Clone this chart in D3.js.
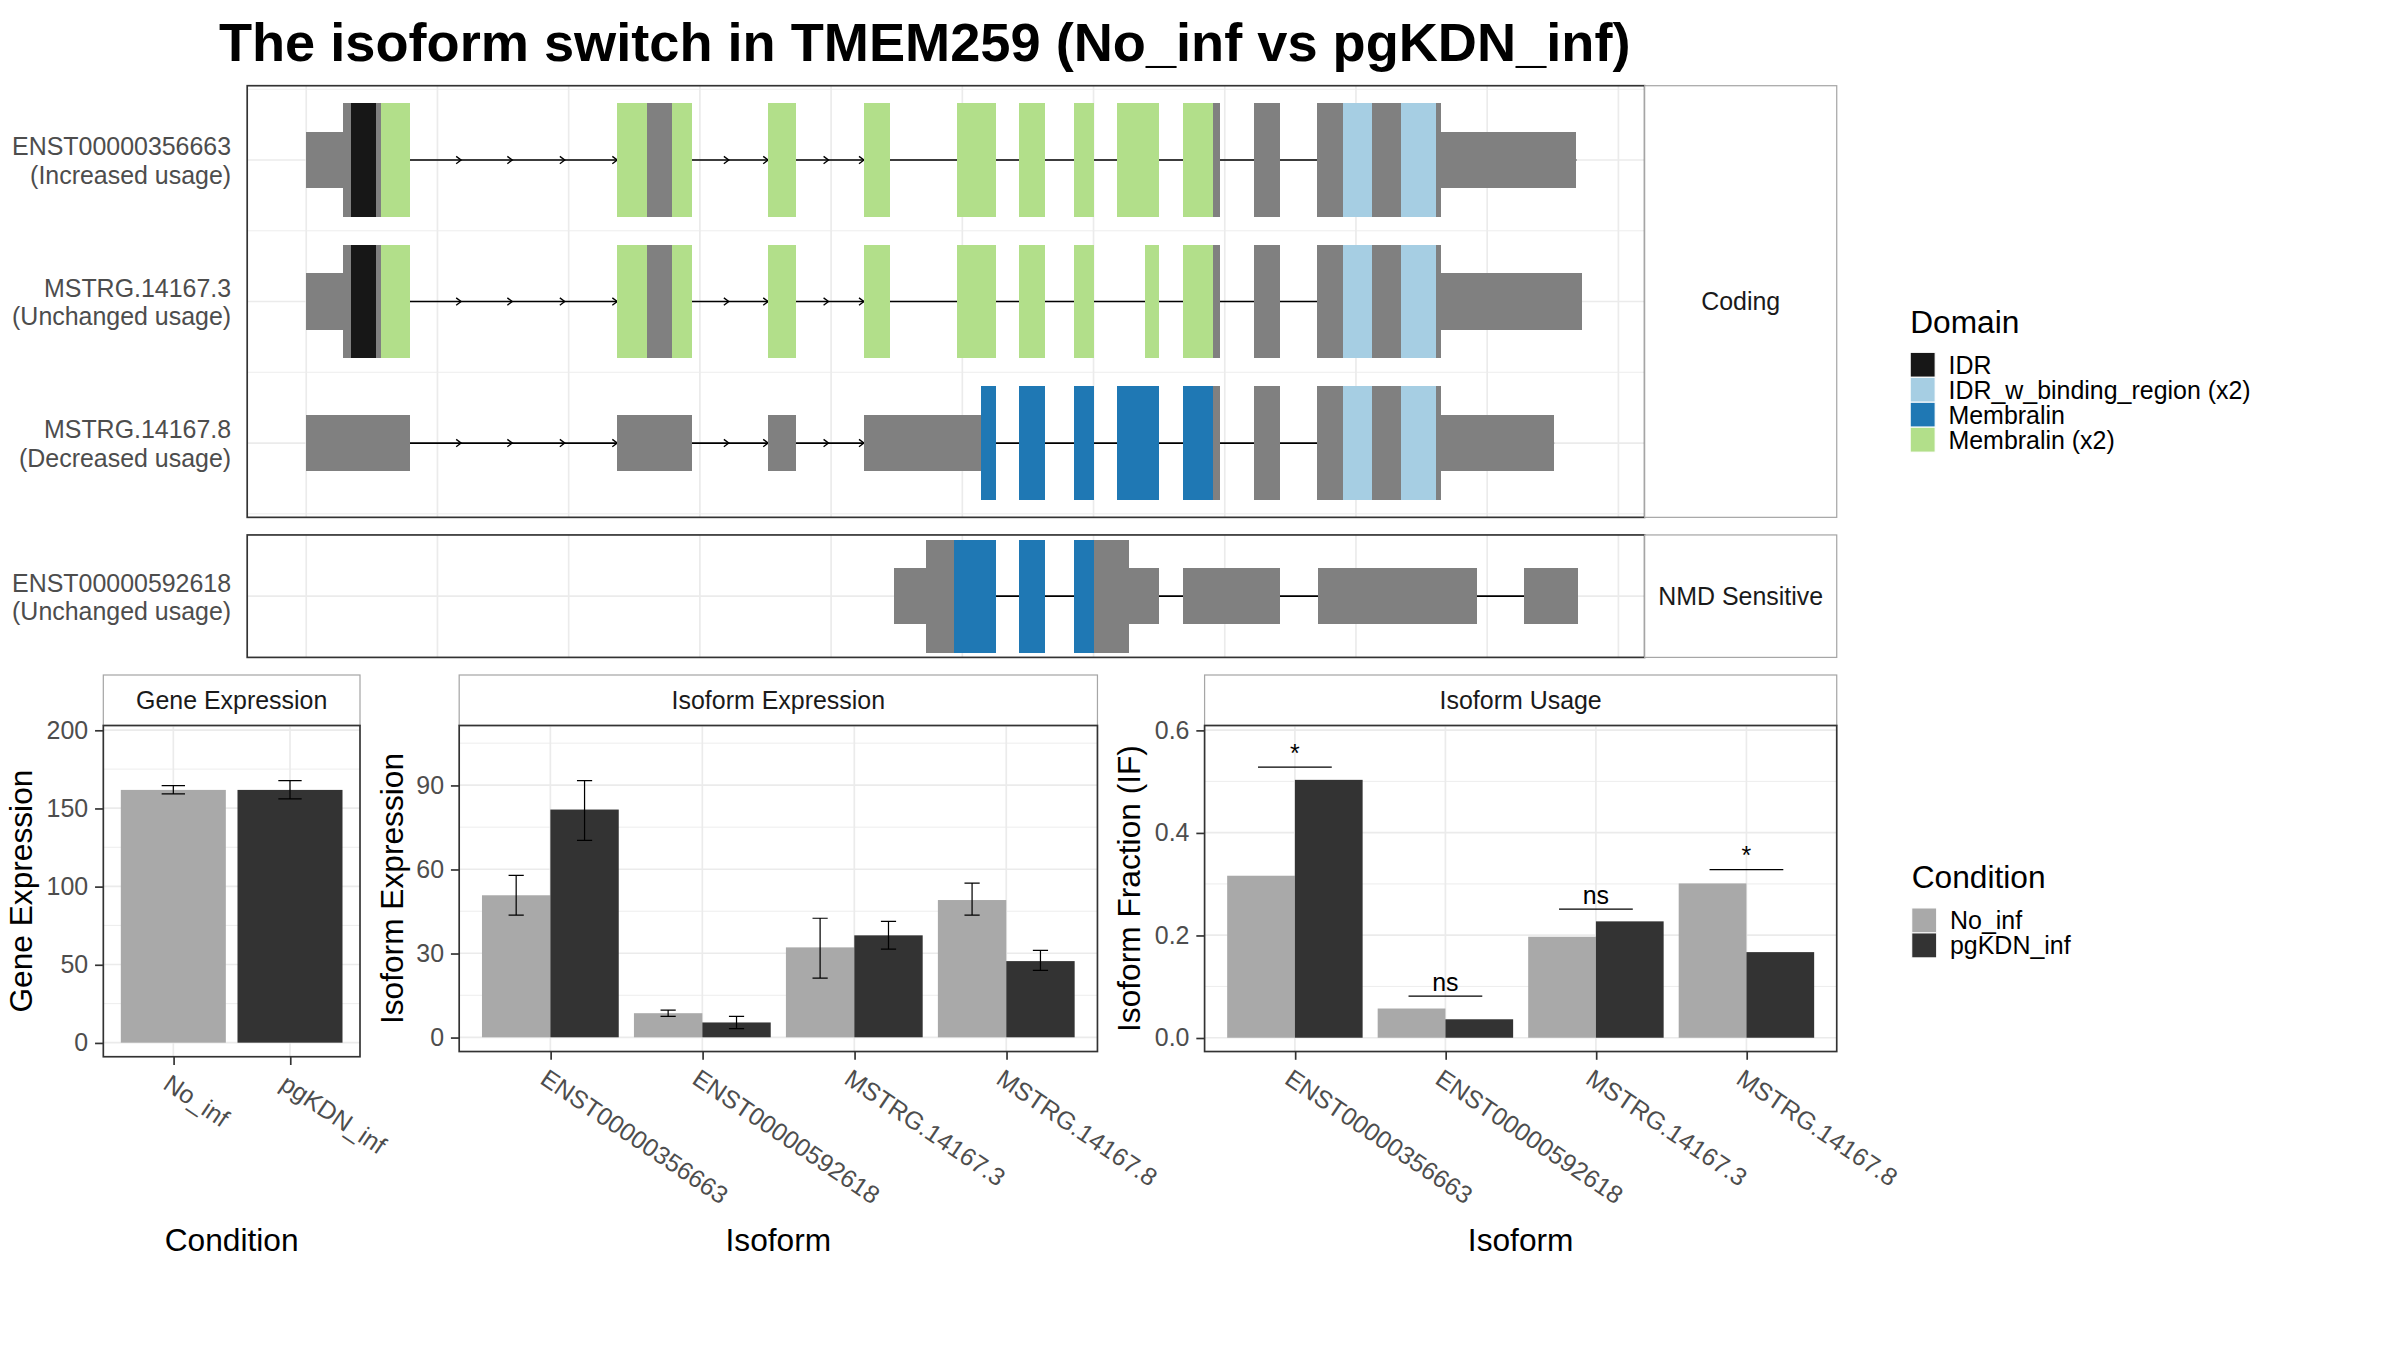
<!DOCTYPE html>
<html>
<head>
<meta charset="utf-8">
<script src="https://cdn.jsdelivr.net/npm/d3@7"></script>
<style>
  body { margin: 0; background: #fff; }
  text { font-family: "Liberation Sans", Arial, Helvetica, sans-serif; }
</style>
</head>
<body>
<script>
// ---------------- data ----------------
var titleText = "The isoform switch in TMEM259 (No_inf vs pgKDN_inf)";

var codingRows = ["ENST00000356663", "MSTRG.14167.3", "MSTRG.14167.8"];
var codingNotes = ["(Increased usage)", "(Unchanged usage)", "(Decreased usage)"];
var nmdRows = ["ENST00000592618"];
var nmdNotes = ["(Unchanged usage)"];

var domainNames = ["IDR", "IDR_w_binding_region (x2)", "Membralin", "Membralin (x2)"];
var domainColors = ["#171717", "#a6cee3", "#1f78b4", "#b2df8a"];

// exon pieces: [start, end, part, domain]  (plot units along the gene)
var exons_ENST00000356663 = [
  [0, 28, "utr", null], [28, 34, "cds", null], [34, 53, "cds", "IDR"], [53, 57, "cds", null], [57, 79, "cds", "Membralin (x2)"],
  [237, 260, "cds", "Membralin (x2)"], [260, 279, "cds", null], [279, 294, "cds", "Membralin (x2)"],
  [352, 373, "cds", "Membralin (x2)"],
  [425, 445, "cds", "Membralin (x2)"],
  [496, 526, "cds", "Membralin (x2)"],
  [543, 563, "cds", "Membralin (x2)"],
  [585, 600, "cds", "Membralin (x2)"],
  [618, 650, "cds", "Membralin (x2)"],
  [668, 691, "cds", "Membralin (x2)"], [691, 696, "cds", null],
  [722, 742, "cds", null],
  [770, 790, "cds", null], [790, 812, "cds", "IDR_w_binding_region (x2)"], [812, 834, "cds", null],
  [834, 861, "cds", "IDR_w_binding_region (x2)"], [861, 865, "cds", null], [865, 968, "utr", null]
];
var exons_MSTRG_14167_3 = [
  [0, 28, "utr", null], [28, 34, "cds", null], [34, 53, "cds", "IDR"], [53, 57, "cds", null], [57, 79, "cds", "Membralin (x2)"],
  [237, 260, "cds", "Membralin (x2)"], [260, 279, "cds", null], [279, 294, "cds", "Membralin (x2)"],
  [352, 373, "cds", "Membralin (x2)"],
  [425, 445, "cds", "Membralin (x2)"],
  [496, 526, "cds", "Membralin (x2)"],
  [543, 563, "cds", "Membralin (x2)"],
  [585, 600, "cds", "Membralin (x2)"],
  [639, 650, "cds", "Membralin (x2)"],
  [668, 691, "cds", "Membralin (x2)"], [691, 696, "cds", null],
  [722, 742, "cds", null],
  [770, 790, "cds", null], [790, 812, "cds", "IDR_w_binding_region (x2)"], [812, 834, "cds", null],
  [834, 861, "cds", "IDR_w_binding_region (x2)"], [861, 865, "cds", null], [865, 972, "utr", null]
];
var exons_MSTRG_14167_8 = [
  [0, 79, "utr", null],
  [237, 294, "utr", null],
  [352, 373, "utr", null],
  [425, 514, "utr", null], [514, 526, "cds", "Membralin"],
  [543, 563, "cds", "Membralin"],
  [585, 600, "cds", "Membralin"],
  [618, 650, "cds", "Membralin"],
  [668, 691, "cds", "Membralin"], [691, 696, "cds", null],
  [722, 742, "cds", null],
  [770, 790, "cds", null], [790, 812, "cds", "IDR_w_binding_region (x2)"], [812, 834, "cds", null],
  [834, 861, "cds", "IDR_w_binding_region (x2)"], [861, 865, "cds", null], [865, 951, "utr", null]
];
var exons_ENST00000592618 = [
  [448, 472, "utr", null], [472, 494, "cds", null], [494, 526, "cds", "Membralin"],
  [543, 563, "cds", "Membralin"],
  [585, 600, "cds", "Membralin"], [600, 627, "cds", null], [627, 650, "utr", null],
  [668, 742, "utr", null],
  [771, 892, "utr", null],
  [928, 969, "utr", null]
];
// little direction arrows on the first introns of the coding isoforms
var intronArrows = [118, 157, 197, 237, 322, 352, 398, 425];

var conditions = ["No_inf", "pgKDN_inf"];
var conditionColors = ["#a9a9a9", "#333333"];

var geneMean = [161.7, 161.7];
var geneLow = [159.1, 155.9];
var geneHigh = [164.4, 167.7];

var isoforms = ["ENST00000356663", "ENST00000592618", "MSTRG.14167.3", "MSTRG.14167.8"];
var isoExpNoInf = [50.7, 8.6, 32.1, 49.0];
var isoExpNoInfLow = [43.6, 7.5, 21.1, 43.6];
var isoExpNoInfHigh = [57.8, 9.7, 42.5, 55.0];
var isoExpPg = [81.3, 5.3, 36.4, 27.2];
var isoExpPgLow = [70.3, 3.1, 31.5, 23.9];
var isoExpPgHigh = [91.6, 7.5, 41.4, 31.0];

var ifNoInf = [0.316, 0.057, 0.197, 0.301];
var ifPg = [0.503, 0.036, 0.227, 0.167];
var sigLabels = ["*", "ns", "ns", "*"];
var sigHeight = [0.528, 0.081, 0.251, 0.328];

// ---------------- setup ----------------
var W = 1568, H = 882;
var FS = 16.3, FT = 20.7;
var grid = "#ebebeb", frame = "#333333", stripLine = "#a6a6a6", tickTxt = "#4d4d4d";

var svg = d3.select("body").append("svg")
    .attr("width", 2400)
    .attr("height", 1350)
    .attr("viewBox", "0 0 " + W + " " + H);
svg.append("rect").attr("width", W).attr("height", H).attr("fill", "#fff");

svg.append("text")
    .attr("x", 143).attr("y", 40)
    .attr("font-size", 35.4).attr("font-weight", "bold")
    .attr("fill", "#000")
    .text(titleText);

// ---------------- transcript panels ----------------
var exonsByTx = {
  "ENST00000356663": exons_ENST00000356663,
  "MSTRG.14167.3": exons_MSTRG_14167_3,
  "MSTRG.14167.8": exons_MSTRG_14167_8,
  "ENST00000592618": exons_ENST00000592618
};
var arrowsByTx = {
  "ENST00000356663": intronArrows,
  "MSTRG.14167.3": intronArrows,
  "MSTRG.14167.8": intronArrows,
  "ENST00000592618": []
};
var domainColor = d3.scaleOrdinal().domain(domainNames).range(domainColors);

var txLeft = 161.5, txRight = 1074.5, stripRight = 1200;
var txX = d3.scaleLinear().domain([-45, 1020]).range([txLeft, txRight]);

var topPanel = {rows: codingRows, notes: codingNotes, top: 56, bottom: 338, strip: "Coding"};
var nmdPanel = {rows: nmdRows, notes: nmdNotes, top: 349.5, bottom: 429.5, strip: "NMD Sensitive"};

var yTop = d3.scalePoint().domain(codingRows).range([topPanel.top, topPanel.bottom]).padding(0.525);
var rowStep = yTop.step();
var tallHalf = 0.4 * rowStep, shortHalf = 0.2 * rowStep;

function txPanel(p, yScale) {
  var g = svg.append("g");
  // grid
  g.selectAll("line.vg").data(txX.ticks(10)).enter().append("line")
      .attr("x1", function(d) { return txX(d); }).attr("x2", function(d) { return txX(d); })
      .attr("y1", p.top).attr("y2", p.bottom)
      .attr("stroke", grid).attr("stroke-width", 1.1);
  if (p.rows.length > 1) {
    var minors = [];
    p.rows.forEach(function(r) { minors.push(yScale(r) - rowStep / 2); });
    minors.push(yScale(p.rows[p.rows.length - 1]) + rowStep / 2);
    g.selectAll("line.hm").data(minors).enter().append("line")
        .attr("x1", txLeft).attr("x2", txRight)
        .attr("y1", function(d) { return d; }).attr("y2", function(d) { return d; })
        .attr("stroke", grid).attr("stroke-width", 0.6);
  }
  g.selectAll("line.hg").data(p.rows).enter().append("line")
      .attr("x1", txLeft).attr("x2", txRight)
      .attr("y1", function(d) { return yScale(d); }).attr("y2", function(d) { return yScale(d); })
      .attr("stroke", grid).attr("stroke-width", 1.1);

  p.rows.forEach(function(tx, i) {
    var segs = exonsByTx[tx];
    var yc = yScale(tx);
    // intron backbone
    g.append("line")
        .attr("x1", txX(segs[0][0])).attr("x2", txX(segs[segs.length - 1][1]))
        .attr("y1", yc).attr("y2", yc)
        .attr("stroke", "#000").attr("stroke-width", 1.1);
    g.selectAll("path.arr" + i).data(arrowsByTx[tx]).enter().append("path")
        .attr("d", function(d) {
          var ax = txX(d);
          return "M" + (ax - 3.2) + "," + (yc - 2.4) + "L" + ax + "," + yc + "L" + (ax - 3.2) + "," + (yc + 2.4);
        })
        .attr("fill", "none").attr("stroke", "#000").attr("stroke-width", 0.9);
    // exons
    g.selectAll("rect.ex" + i).data(segs).enter().append("rect")
        .attr("x", function(d) { return txX(d[0]); })
        .attr("width", function(d) { return txX(d[1]) - txX(d[0]); })
        .attr("y", function(d) { return yc - (d[2] === "cds" ? tallHalf : shortHalf); })
        .attr("height", function(d) { return 2 * (d[2] === "cds" ? tallHalf : shortHalf); })
        .attr("fill", function(d) { return d[3] ? domainColor(d[3]) : "#808080"; })
        .attr("shape-rendering", "crispEdges");
    // label
    var t = svg.append("text")
        .attr("text-anchor", "end").attr("font-size", FS).attr("fill", tickTxt);
    t.append("tspan").attr("x", 151).attr("y", yc - 3).text(tx);
    t.append("tspan").attr("x", 151).attr("y", yc + 15.5).text(p.notes[i]);
  });

  // border + strip
  g.append("rect")
      .attr("x", txLeft).attr("y", p.top)
      .attr("width", txRight - txLeft).attr("height", p.bottom - p.top)
      .attr("fill", "none").attr("stroke", frame).attr("stroke-width", 1.1);
  g.append("rect")
      .attr("x", txRight).attr("y", p.top)
      .attr("width", stripRight - txRight).attr("height", p.bottom - p.top)
      .attr("fill", "#fff").attr("stroke", stripLine).attr("stroke-width", 0.8);
  g.append("text")
      .attr("x", (txRight + stripRight) / 2).attr("y", (p.top + p.bottom) / 2 + 5.8)
      .attr("text-anchor", "middle").attr("font-size", FS).attr("fill", "#1a1a1a")
      .text(p.strip);
}

txPanel(topPanel, yTop);
var yNmd = d3.scalePoint().domain(nmdRows).range([nmdPanel.top, nmdPanel.bottom]).padding(0.5);
txPanel(nmdPanel, yNmd);

// ---------------- legends ----------------
function legend(x, yTitle, title, names, colors) {
  var g = svg.append("g");
  var key = 16.3;
  g.append("text").attr("x", x).attr("y", yTitle).attr("font-size", FT).attr("fill", "#000").text(title);
  var y0 = yTitle + 12.8;
  g.selectAll("rect").data(names).enter().append("rect")
      .attr("x", x).attr("y", function(d, i) { return y0 + i * key; })
      .attr("width", key).attr("height", key)
      .attr("fill", function(d, i) { return colors[i]; })
      .attr("stroke", "#fff").attr("stroke-width", 0.7);
  g.selectAll("text.lab").data(names).enter().append("text")
      .attr("x", x + 25).attr("y", function(d, i) { return y0 + i * key + key / 2 + 5.8; })
      .attr("font-size", FS).attr("fill", "#000")
      .text(function(d) { return d; });
}
legend(1248, 217.4, "Domain", domainNames, domainColors);
legend(1249, 580.4, "Condition", conditions, conditionColors);

// ---------------- bar panels ----------------
var stripTop = 441;

function barPanel(o) {
  var g = svg.append("g");
  var x = d3.scalePoint().domain(o.cats).range([o.left, o.right]).padding(0.6);
  var step = x.step();
  var y = d3.scaleLinear().domain(o.yDomain).range([o.bottom, o.top]);

  // strip
  g.append("rect")
      .attr("x", o.left).attr("y", stripTop)
      .attr("width", o.right - o.left).attr("height", o.top - stripTop)
      .attr("fill", "#fff").attr("stroke", stripLine).attr("stroke-width", 0.8);
  g.append("text")
      .attr("x", (o.left + o.right) / 2).attr("y", (stripTop + o.top) / 2 + 5.8)
      .attr("text-anchor", "middle").attr("font-size", FS).attr("fill", "#1a1a1a")
      .text(o.strip);

  // grid
  g.selectAll("line.mn").data(o.minor).enter().append("line")
      .attr("x1", o.left).attr("x2", o.right)
      .attr("y1", function(d) { return y(d); }).attr("y2", function(d) { return y(d); })
      .attr("stroke", grid).attr("stroke-width", 0.6);
  g.selectAll("line.mj").data(o.ticks).enter().append("line")
      .attr("x1", o.left).attr("x2", o.right)
      .attr("y1", function(d) { return y(d); }).attr("y2", function(d) { return y(d); })
      .attr("stroke", grid).attr("stroke-width", 1.1);
  g.selectAll("line.vg").data(o.cats).enter().append("line")
      .attr("x1", function(d) { return x(d); }).attr("x2", function(d) { return x(d); })
      .attr("y1", o.top).attr("y2", o.bottom)
      .attr("stroke", grid).attr("stroke-width", 1.1);

  // bars + error bars
  var nS = o.series.length;
  var bw = 0.9 * step / nS;
  o.series.forEach(function(s, si) {
    var off = (si - (nS - 1) / 2) * bw;
    g.selectAll("rect.b" + si).data(o.cats).enter().append("rect")
        .attr("x", function(d) { return x(d) + off - bw / 2; })
        .attr("width", bw)
        .attr("y", function(d, i) { return y(s.values[i]); })
        .attr("height", function(d, i) { return y(0) - y(s.values[i]); })
        .attr("fill", function(d, i) { return s.colors ? s.colors[i] : s.color; });
    if (s.low) {
      var ew = o.errWidth * step / 2;
      var eb = g.selectAll("g.e" + si).data(o.cats).enter().append("g")
          .attr("stroke", "#000").attr("stroke-width", 0.8).attr("fill", "none");
      eb.append("path").attr("d", function(d, i) {
        var cx = x(d) + off, lo = y(s.low[i]), hi = y(s.high[i]);
        return "M" + (cx - ew) + "," + hi + "H" + (cx + ew) +
               "M" + cx + "," + hi + "V" + lo +
               "M" + (cx - ew) + "," + lo + "H" + (cx + ew);
      });
    }
  });

  // significance marks
  if (o.sig) {
    o.cats.forEach(function(c, i) {
      var yy = y(o.sig.heights[i]);
      var hw = 0.245 * step;
      g.append("line").attr("x1", x(c) - hw).attr("x2", x(c) + hw)
          .attr("y1", yy).attr("y2", yy).attr("stroke", "#000").attr("stroke-width", 0.8);
      g.append("text").attr("x", x(c)).attr("y", yy - 3.5)
          .attr("text-anchor", "middle").attr("font-size", FS).attr("fill", "#000")
          .text(o.sig.labels[i]);
    });
  }

  // frame
  g.append("rect")
      .attr("x", o.left).attr("y", o.top)
      .attr("width", o.right - o.left).attr("height", o.bottom - o.top)
      .attr("fill", "none").attr("stroke", frame).attr("stroke-width", 1.1);

  // axes
  var ay = g.append("g").attr("transform", "translate(" + o.left + ",0)")
      .call(d3.axisLeft(y).tickValues(o.ticks).tickSize(5.4).tickPadding(4.5).tickFormat(o.fmt));
  ay.select(".domain").remove();
  ay.selectAll(".tick line").attr("stroke", frame).attr("stroke-width", 1.1);
  ay.selectAll(".tick text").attr("font-size", FS).attr("fill", tickTxt)
      .style("font-family", "'Liberation Sans', Arial, sans-serif");

  var ax = g.append("g").attr("transform", "translate(0," + o.bottom + ")")
      .call(d3.axisBottom(x).tickSize(5.4));
  ax.select(".domain").remove();
  ax.selectAll(".tick line").attr("stroke", frame).attr("stroke-width", 1.1);
  ax.selectAll(".tick text")
      .attr("x", 0).attr("y", 0).attr("dy", "0.72em")
      .attr("text-anchor", "start")
      .attr("transform", "translate(-1.5,10.5) rotate(34)")
      .attr("font-size", FS).attr("fill", tickTxt)
      .style("font-family", "'Liberation Sans', Arial, sans-serif");

  // titles
  g.append("text")
      .attr("x", (o.left + o.right) / 2).attr("y", 817.5)
      .attr("text-anchor", "middle").attr("font-size", FT).attr("fill", "#000")
      .text(o.xTitle);
  g.append("text")
      .attr("transform", "translate(" + o.yTitleX + "," + (o.top + o.bottom) / 2 + ") rotate(-90)")
      .attr("text-anchor", "middle").attr("font-size", FT).attr("fill", "#000")
      .text(o.yTitle);
}

barPanel({
  cats: conditions, left: 67.5, right: 235.2, top: 474, bottom: 690.4,
  yDomain: [-9, 202.9], ticks: [0, 50, 100, 150, 200], minor: [25, 75, 125, 175],
  fmt: d3.format("d"), strip: "Gene Expression", xTitle: "Condition",
  yTitle: "Gene Expression", yTitleX: 21, errWidth: 0.2,
  series: [{values: geneMean, low: geneLow, high: geneHigh, colors: conditionColors}]
});

barPanel({
  cats: isoforms, left: 300, right: 717, top: 474, bottom: 687,
  yDomain: [-5.08, 111.3], ticks: [0, 30, 60, 90], minor: [15, 45, 75, 105],
  fmt: d3.format("d"), strip: "Isoform Expression", xTitle: "Isoform",
  yTitle: "Isoform Expression", yTitleX: 263, errWidth: 0.1,
  series: [
    {values: isoExpNoInf, low: isoExpNoInfLow, high: isoExpNoInfHigh, color: conditionColors[0]},
    {values: isoExpPg, low: isoExpPgLow, high: isoExpPgHigh, color: conditionColors[1]}
  ]
});

barPanel({
  cats: isoforms, left: 787, right: 1200, top: 474, bottom: 687,
  yDomain: [-0.0269, 0.609], ticks: [0, 0.2, 0.4, 0.6], minor: [0.1, 0.3, 0.5],
  fmt: d3.format(".1f"), strip: "Isoform Usage", xTitle: "Isoform",
  yTitle: "Isoform Fraction (IF)", yTitleX: 745, errWidth: 0.1,
  series: [
    {values: ifNoInf, color: conditionColors[0]},
    {values: ifPg, color: conditionColors[1]}
  ],
  sig: {labels: sigLabels, heights: sigHeight}
});
</script>
</body>
</html>
